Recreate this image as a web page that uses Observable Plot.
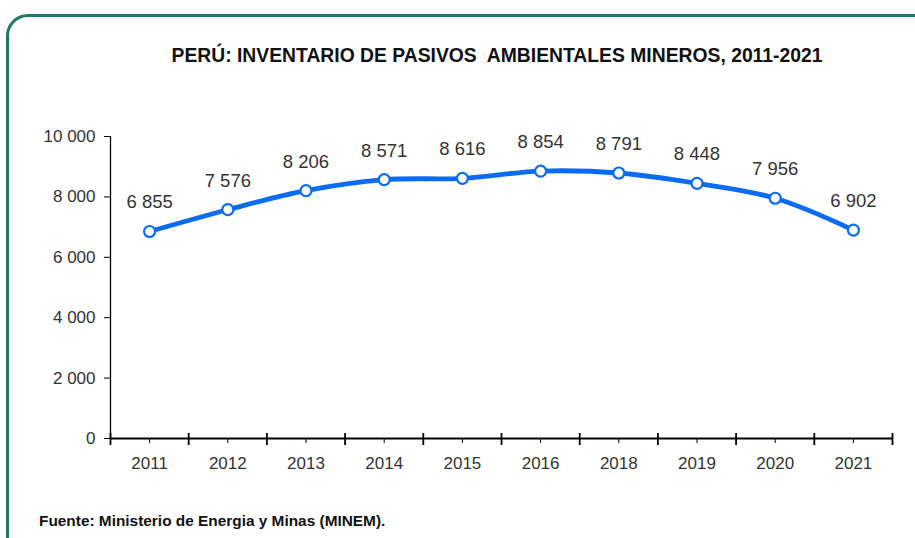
<!DOCTYPE html>
<html>
<head>
<meta charset="utf-8">
<script src="https://cdn.jsdelivr.net/npm/d3@7"></script>
<script src="https://cdn.jsdelivr.net/npm/@observablehq/plot@0.6"></script>
<style>
  html, body { margin: 0; padding: 0; background: #fff; }
  #wrap { position: relative; width: 915px; height: 538px; overflow: hidden; background: #fff;
          font-family: "Liberation Sans", Arial, sans-serif; }
  #frame { position: absolute; left: 6px; top: 14px; width: 940px; height: 560px;
           border: 3px solid #1e7a64; border-radius: 22px; box-sizing: border-box; }
  #title { position: absolute; left: 0; width: 994px; top: 43px; text-align: center;
           font-weight: bold; font-size: 21px; color: #111; white-space: pre;
           transform: scaleX(0.92); transform-origin: 497px 0; }
  #source { position: absolute; left: 39px; top: 512px; font-weight: bold; font-size: 15.4px; color: #111; }
  #chart { position: absolute; left: 0; top: 0; }
</style>
</head>
<body>
<div id="wrap">
  <div id="frame"></div>
  <div id="title">PERÚ: INVENTARIO DE PASIVOS  AMBIENTALES MINEROS, 2011-2021</div>
  <div id="chart"></div>
  <div id="source">Fuente: Ministerio de Energia y Minas (MINEM).</div>
</div>
<script>
const years = ["2011", "2012", "2013", "2014", "2015", "2016", "2018", "2019", "2020", "2021"];
const pasivos = [6855, 7576, 8206, 8571, 8616, 8854, 8791, 8448, 7956, 6902];
const yTicks = [0, 2000, 4000, 6000, 8000, 10000];

const fmt = d3.formatLocale({decimal: ",", thousands: " ", grouping: [3], currency: ["", ""]}).format(",d");

const data = years.map((y, i) => ({i, year: y, value: pasivos[i]}));
const idx = years.map((_, i) => i);
const bounds = [-0.5, ...idx.map(i => i + 0.5)];

const blue = "#0a6cf5";

const plot = Plot.plot({
  width: 915,
  height: 538,
  marginLeft: 110,
  marginRight: 23,
  marginTop: 136,
  marginBottom: 100,
  style: {fontFamily: '"Liberation Sans", Arial, sans-serif', fontSize: "17px", color: "#333", background: "transparent", overflow: "visible"},
  x: {type: "linear", domain: [-0.5, years.length - 0.5]},
  y: {type: "linear", domain: [0, 10000]},
  marks: [
    Plot.axisY({ticks: yTicks, tickFormat: fmt, tickSize: 6, tickPadding: 9, label: null, stroke: "#000", fill: "#333", fontSize: 17}),
    Plot.ruleX([-0.5], {y1: 0, y2: 10000, stroke: "#000", strokeWidth: 1.3}),
    Plot.ruleY([0], {x1: -0.5, x2: years.length - 0.5, stroke: "#000", strokeWidth: 1.8}),
    Plot.ruleX(bounds, {x: d => d, y1: 0, y2: 0, insetTop: -5, insetBottom: -7, stroke: "#000", strokeWidth: 1.8}),
    Plot.axisX({ticks: idx, tickFormat: i => years[i], tickSize: 5, tickPadding: 13, label: null, stroke: "#000", fill: "#333", fontSize: 17}),
    Plot.line(data, {x: "i", y: "value", stroke: blue, strokeWidth: 4.8, curve: "catmull-rom"}),
    Plot.dot(data, {x: "i", y: "value", r: 5.5, fill: "#fff", stroke: blue, strokeWidth: 2.2}),
    Plot.text(data, {x: "i", y: "value", text: d => fmt(d.value), dy: -29, fill: "#333", fontSize: 18.5})
  ]
});
document.getElementById("chart").appendChild(plot);
</script>
</body>
</html>
